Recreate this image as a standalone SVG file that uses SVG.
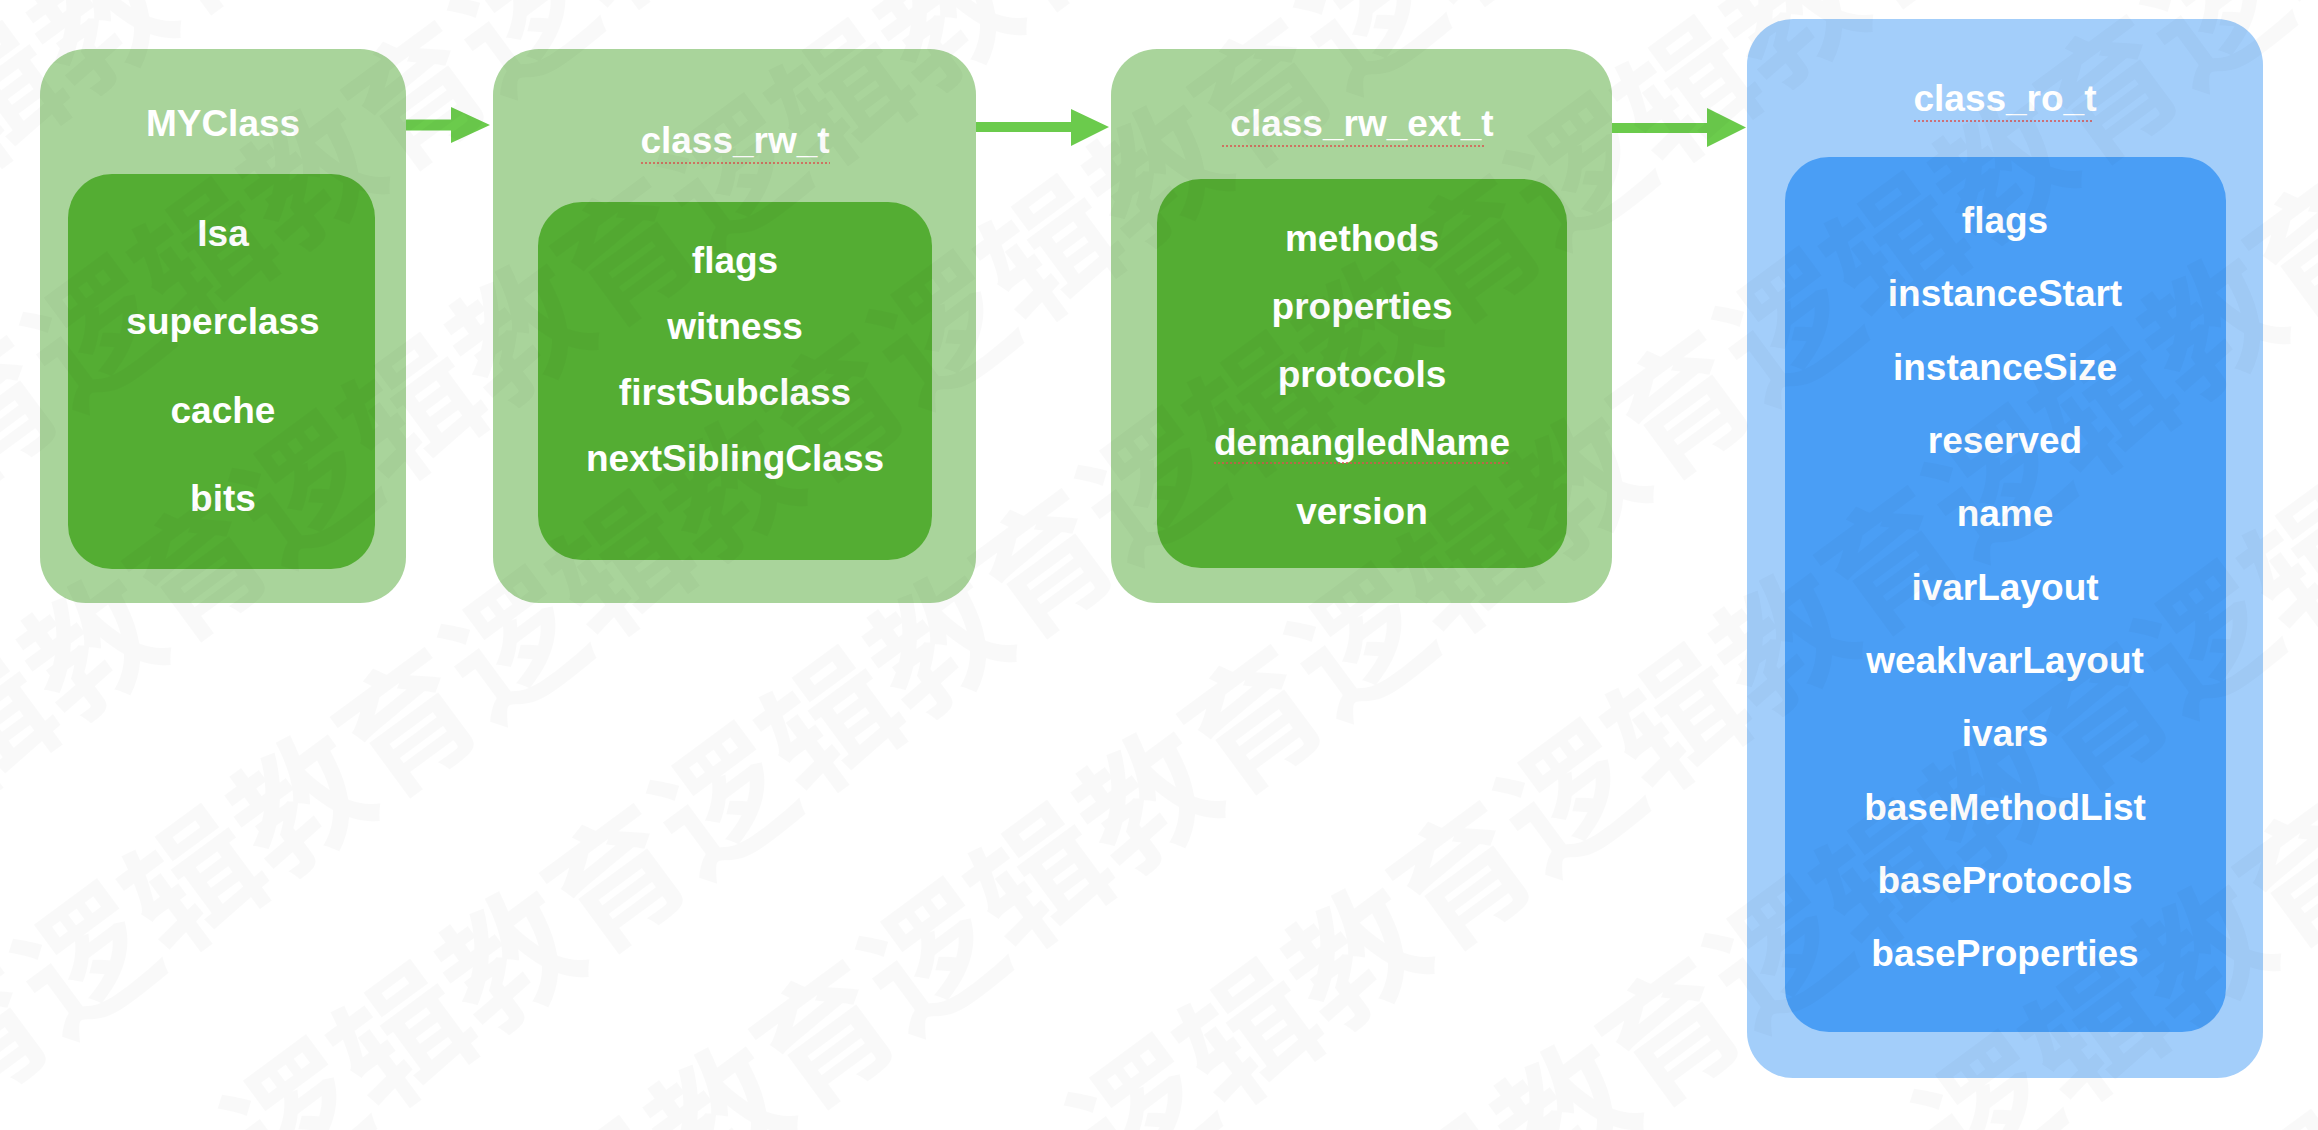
<svg xmlns="http://www.w3.org/2000/svg" xmlns:xlink="http://www.w3.org/1999/xlink" width="2318" height="1130" viewBox="0 0 2318 1130">
<style>
.og{fill:#a9d49b}
.ig{fill:#54ad33}
.ob{fill:#a3cefa}
.ib{fill:#4a9ef5}
.t{font-family:"Liberation Sans",Arial,Helvetica,sans-serif;font-weight:bold;font-size:37px;fill:#ffffff;text-anchor:middle}
.arr{fill:#6bcb4c}
.sq{stroke:#d9534f;stroke-width:1.6;stroke-dasharray:2 2;fill:none}
.wm{font-family:"Noto Sans CJK SC","Noto Sans CJK JP",sans-serif;font-weight:bold;font-size:133px;fill:#000;fill-opacity:0.022;text-anchor:middle}
</style>
<defs>
<text id="wm" class="wm" x="0" y="50" transform="rotate(-36.4)">逻辑教育</text>
</defs>
<rect width="2318" height="1130" fill="#ffffff"/>

<g id="connectors">
<path class="arr" d="M403 119.5 H451 V107 L490 125 L451 143 V130.5 H403 Z"/>
<path class="arr" d="M975 122 H1071 V109 L1109 127 L1071 146 V132 H975 Z"/>
<path class="arr" d="M1612 123 H1707 V108 L1746 127.5 L1707 147 V133 H1612 Z"/>
</g>

<g id="node-myclass">
<rect class="og" x="40" y="49" width="366" height="554" rx="46"/>
<rect class="ig" x="68" y="174" width="307" height="395" rx="44"/>
<text class="t" x="223" y="136">MYClass</text>
<text class="t" x="223" y="246">Isa</text>
<text class="t" x="223" y="334">superclass</text>
<text class="t" x="223" y="423">cache</text>
<text class="t" x="223" y="511">bits</text>
</g>

<g id="node-class_rw_t">
<rect class="og" x="493" y="49" width="483" height="554" rx="46"/>
<rect class="ig" x="538" y="202" width="394" height="358" rx="44"/>
<text class="t" x="735" y="153">class_rw_t</text>
<line class="sq" x1="641" y1="163" x2="830" y2="163"/>
<text class="t" x="735" y="273">flags</text>
<text class="t" x="735" y="339">witness</text>
<text class="t" x="735" y="405">firstSubclass</text>
<text class="t" x="735" y="471">nextSiblingClass</text>
</g>

<g id="node-class_rw_ext_t">
<rect class="og" x="1111" y="49" width="501" height="554" rx="46"/>
<rect class="ig" x="1157" y="179" width="410" height="389" rx="44"/>
<text class="t" x="1362" y="136">class_rw_ext_t</text>
<line class="sq" x1="1222" y1="146" x2="1484" y2="146"/>
<text class="t" x="1362" y="251">methods</text>
<text class="t" x="1362" y="319">properties</text>
<text class="t" x="1362" y="387">protocols</text>
<text class="t" x="1362" y="455">demangledName</text>
<line class="sq" x1="1214" y1="463" x2="1508" y2="463"/>
<text class="t" x="1362" y="524">version</text>
</g>

<g id="node-class_ro_t">
<rect class="ob" x="1747" y="19" width="516" height="1059" rx="46"/>
<rect class="ib" x="1785" y="157" width="441" height="875" rx="44"/>
<text class="t" x="2005" y="111">class_ro_t</text>
<line class="sq" x1="1914" y1="121" x2="2094" y2="121"/>
<text class="t" x="2005" y="233">flags</text>
<text class="t" x="2005" y="306">instanceStart</text>
<text class="t" x="2005" y="380">instanceSize</text>
<text class="t" x="2005" y="453">reserved</text>
<text class="t" x="2005" y="526">name</text>
<text class="t" x="2005" y="600">ivarLayout</text>
<text class="t" x="2005" y="673">weakIvarLayout</text>
<text class="t" x="2005" y="746">ivars</text>
<text class="t" x="2005" y="820">baseMethodList</text>
<text class="t" x="2005" y="893">baseProtocols</text>
<text class="t" x="2005" y="966">baseProperties</text>
</g>

<g id="watermark">
<use xlink:href="#wm" transform="translate(-161,-97)"/>
<use xlink:href="#wm" transform="translate(48,59)"/>
<use xlink:href="#wm" transform="translate(-171,530)"/>
<use xlink:href="#wm" transform="translate(257,215)"/>
<use xlink:href="#wm" transform="translate(685,-100)"/>
<use xlink:href="#wm" transform="translate(38,686)"/>
<use xlink:href="#wm" transform="translate(466,371)"/>
<use xlink:href="#wm" transform="translate(894,56)"/>
<use xlink:href="#wm" transform="translate(-181,1157)"/>
<use xlink:href="#wm" transform="translate(247,842)"/>
<use xlink:href="#wm" transform="translate(675,527)"/>
<use xlink:href="#wm" transform="translate(1103,212)"/>
<use xlink:href="#wm" transform="translate(1531,-103)"/>
<use xlink:href="#wm" transform="translate(456,998)"/>
<use xlink:href="#wm" transform="translate(884,683)"/>
<use xlink:href="#wm" transform="translate(1312,368)"/>
<use xlink:href="#wm" transform="translate(1740,53)"/>
<use xlink:href="#wm" transform="translate(665,1154)"/>
<use xlink:href="#wm" transform="translate(1093,839)"/>
<use xlink:href="#wm" transform="translate(1521,524)"/>
<use xlink:href="#wm" transform="translate(1949,209)"/>
<use xlink:href="#wm" transform="translate(2377,-106)"/>
<use xlink:href="#wm" transform="translate(1302,995)"/>
<use xlink:href="#wm" transform="translate(1730,680)"/>
<use xlink:href="#wm" transform="translate(2158,365)"/>
<use xlink:href="#wm" transform="translate(1511,1151)"/>
<use xlink:href="#wm" transform="translate(1939,836)"/>
<use xlink:href="#wm" transform="translate(2367,521)"/>
<use xlink:href="#wm" transform="translate(2148,992)"/>
<use xlink:href="#wm" transform="translate(2357,1148)"/>
</g>
</svg>
